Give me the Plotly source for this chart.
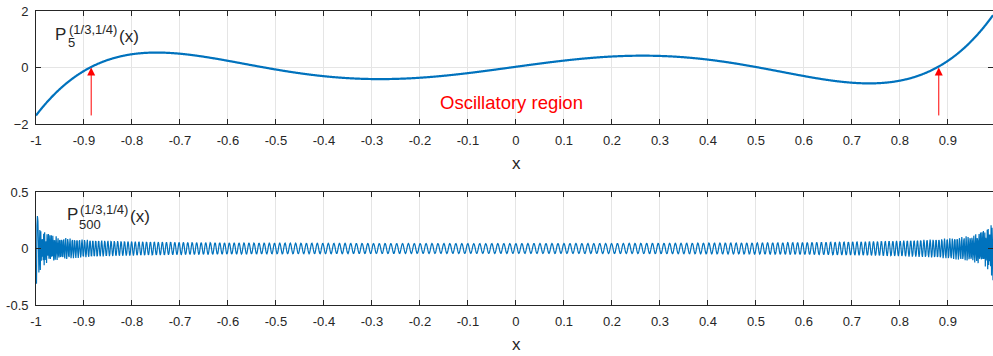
import numpy as np
import plotly.graph_objects as go

# ---- data ----
alpha = 1 / 3
beta = 1 / 4
degree_top = 5
degree_bottom = 500
x_min, x_max = -1.0, 0.994
x_top = np.linspace(x_min, x_max, 1995)
x_bottom = np.linspace(-0.999, x_max, 1994)

x_ticks = [round(-1 + 0.1 * i, 1) for i in range(20)]
x_tick_labels = ["-1", "-0.9", "-0.8", "-0.7", "-0.6", "-0.5", "-0.4", "-0.3", "-0.2", "-0.1",
                 "0", "0.1", "0.2", "0.3", "0.4", "0.5", "0.6", "0.7", "0.8", "0.9"]
y_ticks_top = [-2, 0, 2]
y_ticks_bottom = [-0.5, 0, 0.5]
y_tick_labels_bottom = ["-0.5", "0", "0.5"]

arrow_x = [-0.885, 0.881]
arrow_tail_y = -1.75
arrow_tip_y = 0.0
region_text = "Oscillatory region"
region_x, region_y = -0.01, -1.25


def jacobi(n, a, b, x):
    """Jacobi polynomial P_n^(a,b)(x) via the standard three-term recurrence."""
    p0 = np.ones_like(x)
    if n == 0:
        return p0
    p1 = (a + 1) + (a + b + 2) * (x - 1) / 2
    for k in range(2, n + 1):
        c = 2 * k + a + b
        a1 = 2 * k * (k + a + b) * (c - 2)
        a2 = (c - 1) * (a * a - b * b)
        a3 = (c - 1) * c * (c - 2)
        a4 = 2 * (k + a - 1) * (k + b - 1) * c
        p0, p1 = p1, ((a2 + a3 * x) * p1 - a4 * p0) / a1
    return p1


y_top = jacobi(degree_top, alpha, beta, x_top)
y_bottom = jacobi(degree_bottom, alpha, beta, x_bottom)

# ---- figure ----
W, H = 993, 356
ML, MR, MT, MB = 36, 0, 11, 51
PW, PH = W - ML - MR, H - MT - MB


def px(xp):
    return (xp - ML) / PW


def py(yp):
    return (H - MB - yp) / PH


BLUE = "#0072BD"
AXC = "#262626"
GRID = "#e5e5e5"
FONT = "Liberation Sans, Arial, sans-serif"

fig = go.Figure()
fig.add_trace(go.Scatter(x=x_top, y=y_top, mode="lines",
                         line=dict(color=BLUE, width=2.2, simplify=False), xaxis="x", yaxis="y",
                         showlegend=False, hoverinfo="skip"))
fig.add_trace(go.Scatter(x=x_bottom, y=y_bottom, mode="lines",
                         line=dict(color=BLUE, width=1.2, simplify=False), xaxis="x2", yaxis="y2",
                         showlegend=False, hoverinfo="skip"))

axis_common = dict(showline=True, linecolor=AXC, linewidth=0.8, mirror="ticks",
                   ticks="inside", ticklen=5, tickcolor=AXC, tickwidth=0.8,
                   showgrid=True, gridcolor=GRID, gridwidth=1, zeroline=False,
                   automargin=False,
                   tickfont=dict(family=FONT, size=13, color=AXC))

top_dom = [py(124), 1]
bot_dom = [0, py(192)]

fig.update_layout(
    width=W, height=H,
    margin=dict(l=ML, r=MR, t=MT, b=MB, autoexpand=False),
    paper_bgcolor="white", plot_bgcolor="white",
    showlegend=False,
    xaxis=dict(domain=[0, 1], range=[x_min, x_max], tickvals=x_ticks, ticktext=x_tick_labels,
               anchor="y", ticklabelstandoff=4, **axis_common),
    yaxis=dict(domain=top_dom, range=[-2, 2], tickvals=y_ticks_top, anchor="x",
               ticklabelstandoff=4, **axis_common),
    xaxis2=dict(domain=[0, 1], range=[x_min, x_max], tickvals=x_ticks, ticktext=x_tick_labels,
                anchor="y2", ticklabelstandoff=4, **axis_common),
    yaxis2=dict(domain=bot_dom, range=[-0.5, 0.5], tickvals=y_ticks_bottom,
                ticktext=y_tick_labels_bottom, anchor="x2", ticklabelstandoff=4, **axis_common),
)

ann = []


def text(xp, yp, s, size, color=AXC, anchor="left"):
    ann.append(dict(x=px(xp), y=py(yp), xref="paper", yref="paper", text=s,
                    showarrow=False, xanchor=anchor, yanchor="middle", borderpad=0,
                    font=dict(family=FONT, size=size, color=color)))


# axis titles
text(516, 163, "x", 17, anchor="center")
text(516, 344, "x", 17, anchor="center")

# polynomial labels (stacked super/subscripts)
text(54, 34.5, "P", 17)
text(67.5, 29.5, "(1/3,1/4)", 13)
text(67, 42, str(degree_top), 13)
text(117.5, 36, "(x)", 17)

text(66, 214.5, "P", 17)
text(78.5, 209.5, "(1/3,1/4)", 13)
text(78, 224.5, str(degree_bottom), 13)
text(128.5, 216, "(x)", 17)

# oscillatory region label
ann.append(dict(x=region_x, y=region_y, xref="x", yref="y", text=region_text, showarrow=False,
                xanchor="center", yanchor="middle",
                font=dict(family=FONT, size=18.5, color="#ff0000")))

# red arrows
for xa in arrow_x:
    ann.append(dict(x=xa, y=arrow_tip_y, ax=xa, ay=arrow_tail_y, xref="x", yref="y",
                    axref="x", ayref="y", showarrow=True, arrowhead=2, arrowsize=1.6,
                    arrowwidth=1, arrowcolor="#ff0000", text=""))

fig.update_layout(annotations=ann)
fig.write_html("out.html", config={"displayModeBar": False},
               post_script="document.body.style.margin='0';document.body.style.padding='0';"
                           "document.body.style.overflow='hidden';")
